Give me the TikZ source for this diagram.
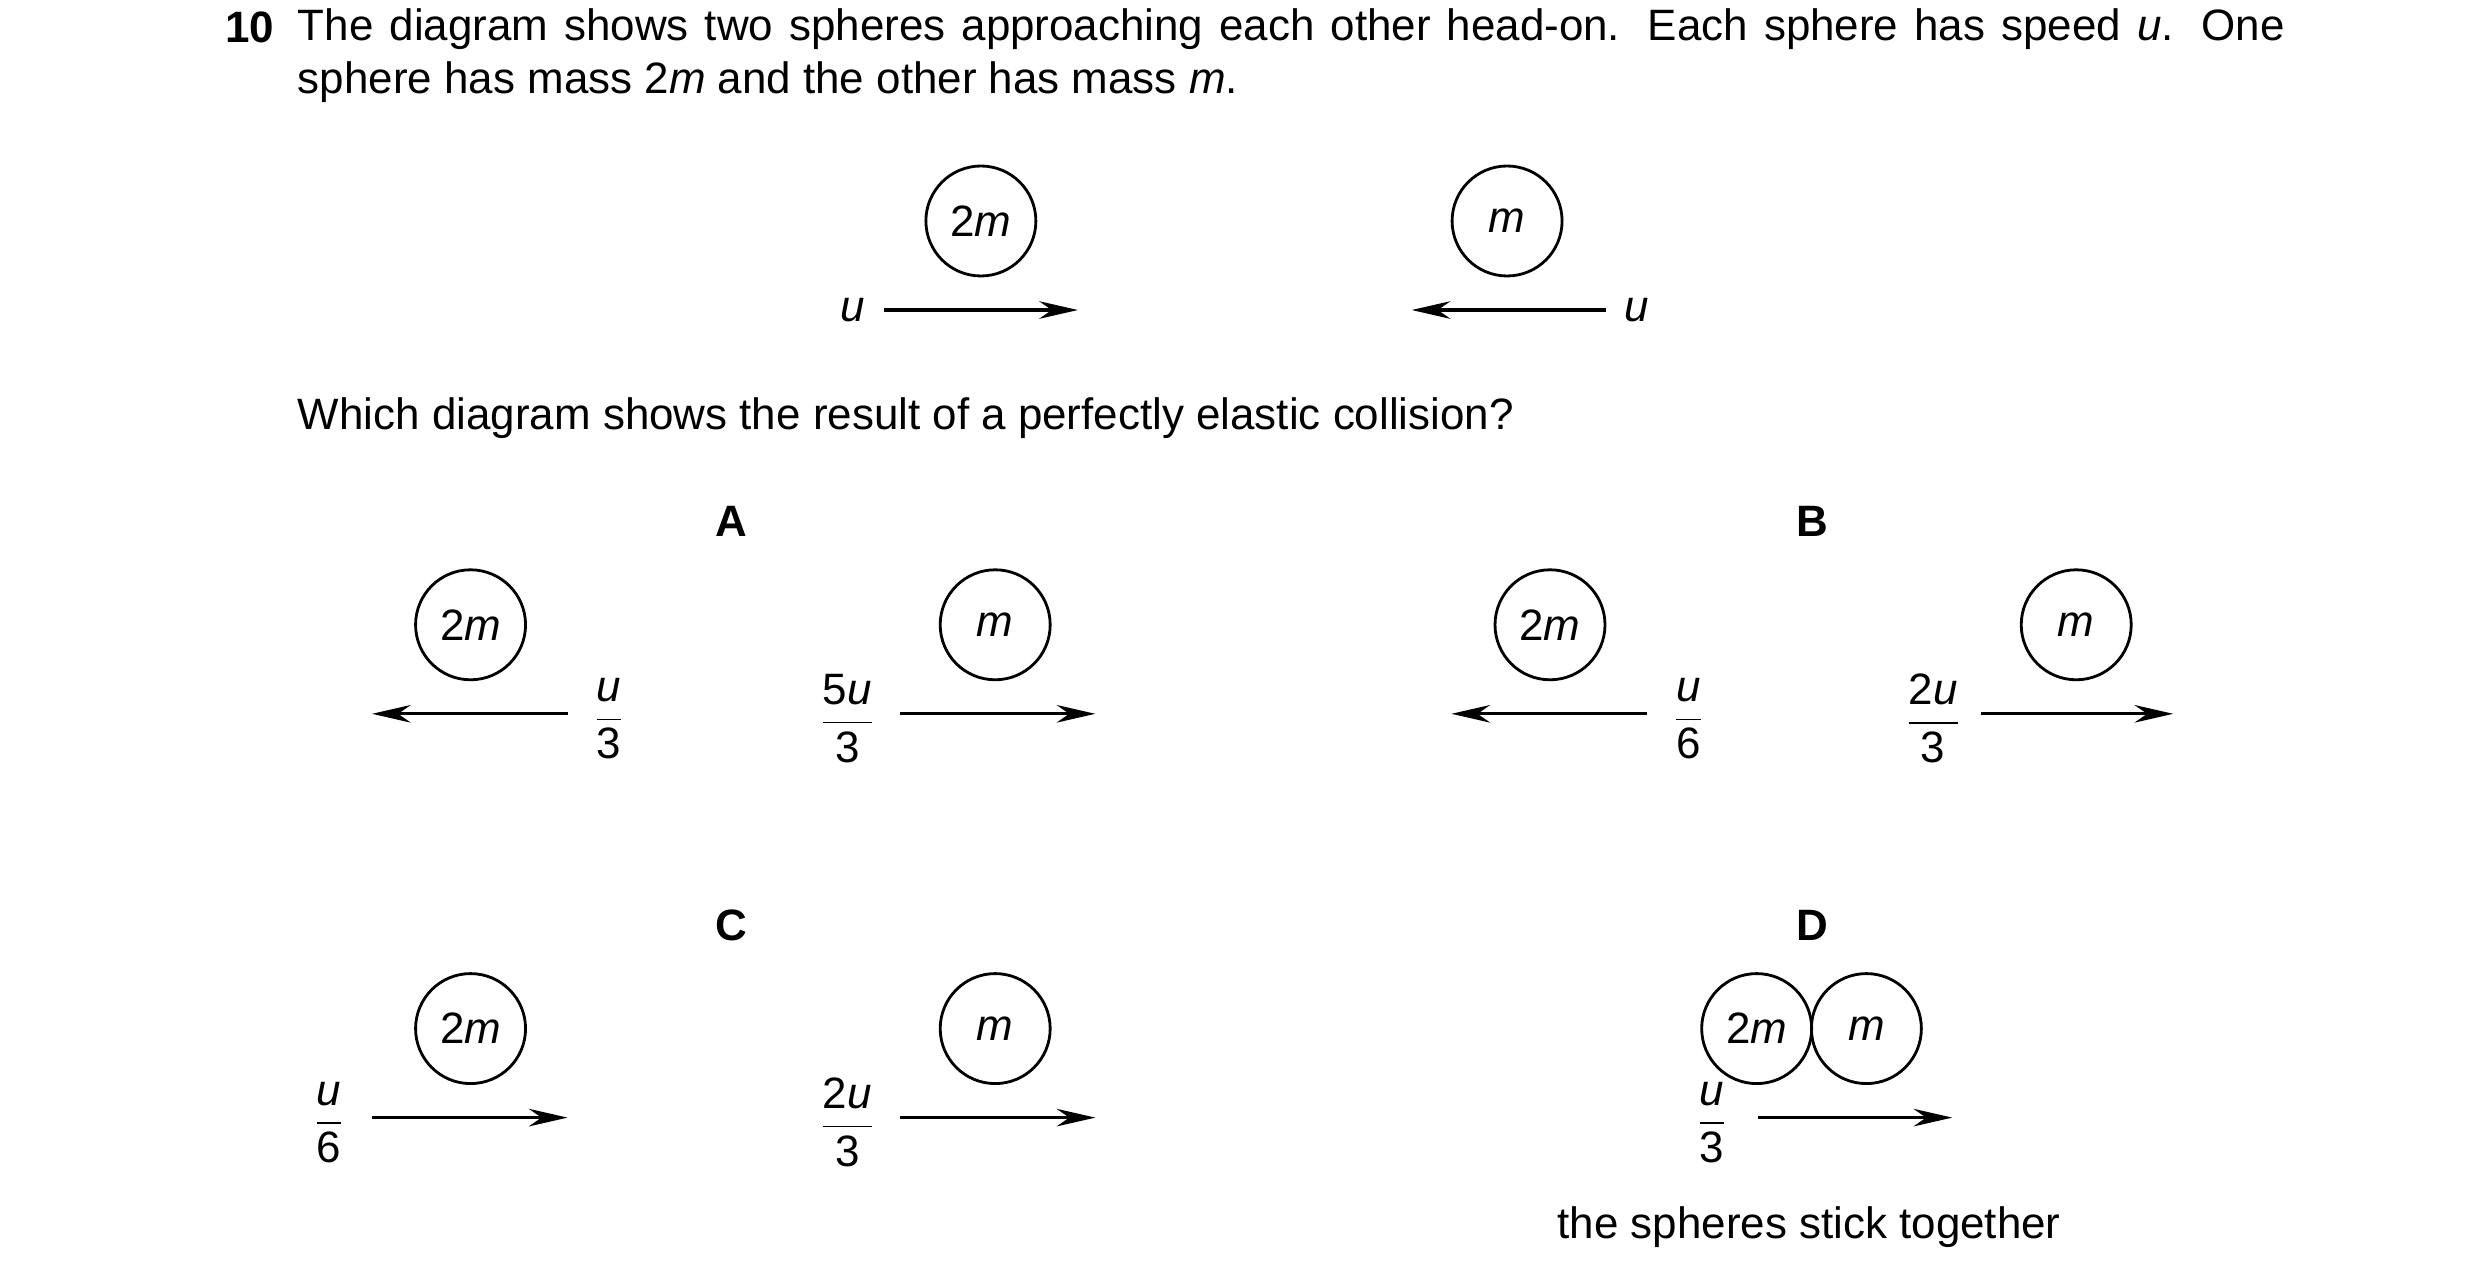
\documentclass[tikz,border=0pt]{standalone}
\usepackage{fontspec}
\setmainfont{Liberation Sans}
\usetikzlibrary{positioning, arrows.meta}
\newcommand{\frc}[2]{$\displaystyle\frac{\mbox{#1}}{\mbox{#2}}$}
\begin{document}
\fontsize{12.5}{15}\selectfont
\begin{tikzpicture}[x=0.0159cm, y=-0.0159cm,
    sphere/.style={draw, circle, line width=0.8pt, minimum size=1.1cm, inner sep=0pt},
    vel/.style={-{Stealth[length=11pt, width=5pt]}, line width=0.9pt},
    letter/.style={font=\bfseries}]
  \useasboundingbox (0,0) rectangle (1560,809);
  \node[font=\bfseries, anchor=base west] (num) at (132,27) {10};
  \node[anchor=north west, inner sep=0pt, text width=19.87cm, align=justify] (intro) at (187,5)
    {The diagram shows two spheres approaching each other head-on. Each sphere has speed \textit{u}.
     One sphere has mass 2\textit{m} and the other has mass \textit{m}.};
  % before the collision
  \node[sphere] (s1) at (617,139) {2\textit{m}};
  \node[sphere] (s2) at (948,139) {\textit{m}};
  \coordinate (a1) at (556,195); \coordinate (b1) at (678,195);
  \coordinate (a2) at (1010,195); \coordinate (b2) at (888,195);
  \node[left=1pt of a1] (u1) {\textit{u}};
  \node[right=1pt of a2] (u2) {\textit{u}};
  \draw[vel] (a1) -- (b1);
  \draw[vel] (a2) -- (b2);
  \node[anchor=west, inner sep=0pt] (question) at (187,263) {Which diagram shows the result of a perfectly elastic collision?};
  % A
  \node[letter] (A) at (460,328) {A};
  \node[sphere] (A1) at (296,393) {2\textit{m}};
  \node[sphere] (A2) at (626,393) {\textit{m}};
  \coordinate (Aa) at (357,449); \coordinate (Ab) at (234,449);
  \coordinate (Ac) at (566,449); \coordinate (Ad) at (689,449);
  \draw[vel] (Aa) -- (Ab);
  \draw[vel] (Ac) -- (Ad);
  \node (Af1) at (383,452) {\frc{\textit{u}}{3}};
  \node (Af2) at (533,452) {\frc{5\textit{u}}{3}};
  % B
  \node[letter] (B) at (1140,328) {B};
  \node[sphere] (B1) at (975,393) {2\textit{m}};
  \node[sphere] (B2) at (1306,393) {\textit{m}};
  \coordinate (Ba) at (1036,449); \coordinate (Bb) at (913,449);
  \coordinate (Bc) at (1246,449); \coordinate (Bd) at (1367,449);
  \draw[vel] (Ba) -- (Bb);
  \draw[vel] (Bc) -- (Bd);
  \node (Bf1) at (1062,452) {\frc{\textit{u}}{6}};
  \node (Bf2) at (1216,452) {\frc{2\textit{u}}{3}};
  % C
  \node[letter] (C) at (460,582) {C};
  \node[sphere] (C1) at (296,647) {2\textit{m}};
  \node[sphere] (C2) at (626,647) {\textit{m}};
  \coordinate (Ca) at (234,703); \coordinate (Cb) at (357,703);
  \coordinate (Cc) at (566,703); \coordinate (Cd) at (689,703);
  \draw[vel] (Ca) -- (Cb);
  \draw[vel] (Cc) -- (Cd);
  \node (Cf1) at (207,706) {\frc{\textit{u}}{6}};
  \node (Cf2) at (533,706) {\frc{2\textit{u}}{3}};
  % D
  \node[letter] (D) at (1140,582) {D};
  \node[sphere] (D1) at (1105,647) {2\textit{m}};
  \node[sphere] (D2) at (1174,647) {\textit{m}};
  \coordinate (Da) at (1106,703); \coordinate (Db) at (1228,703);
  \draw[vel] (Da) -- (Db);
  \node (Df) at (1077,706) {\frc{\textit{u}}{3}};
  \node (stick) at (1138,772) {the spheres stick together};
\end{tikzpicture}
\end{document}
